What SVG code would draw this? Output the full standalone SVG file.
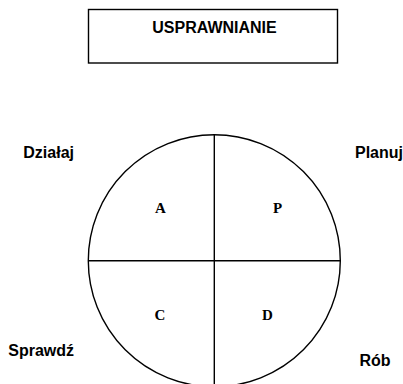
<svg xmlns="http://www.w3.org/2000/svg" width="403" height="384" viewBox="0 0 403 384">
<style>
.lbl{font-family:"Liberation Sans",Arial,sans-serif;font-weight:bold;font-size:16px;fill:#000}
.q{font-family:"Liberation Serif","Times New Roman",serif;font-weight:bold;font-size:15px;fill:#000;text-anchor:middle}
.ln{stroke:#000;stroke-width:1.4;fill:none}
</style>
<rect width="403" height="384" fill="#fff"/>
<g id="title">
<rect x="88.5" y="9.5" width="249" height="53.5" class="ln"/>
<text x="214.5" y="32.5" class="lbl" text-anchor="middle">USPRAWNIANIE</text>
</g>
<g id="circle">
<circle cx="214.3" cy="260.7" r="126" class="ln"/>
</g>
<g id="connectors">
<line x1="214.3" y1="134.7" x2="214.3" y2="384" class="ln"/>
<line x1="88.3" y1="260.7" x2="340.3" y2="260.7" class="ln"/>
</g>
<g id="quad-A"><text x="160.5" y="213.3" class="q">A</text></g>
<g id="quad-P"><text x="277.5" y="213.3" class="q">P</text></g>
<g id="quad-C"><text x="160" y="320" class="q">C</text></g>
<g id="quad-D"><text x="267.5" y="320" class="q">D</text></g>
<g id="label-dzialaj"><text x="23.3" y="157.7" class="lbl">Działaj</text></g>
<g id="label-planuj"><text x="355" y="157.7" class="lbl">Planuj</text></g>
<g id="label-sprawdz"><text x="8.3" y="356" class="lbl">Sprawdź</text></g>
<g id="label-rob"><text x="359.5" y="366" class="lbl">Rób</text></g>
</svg>
